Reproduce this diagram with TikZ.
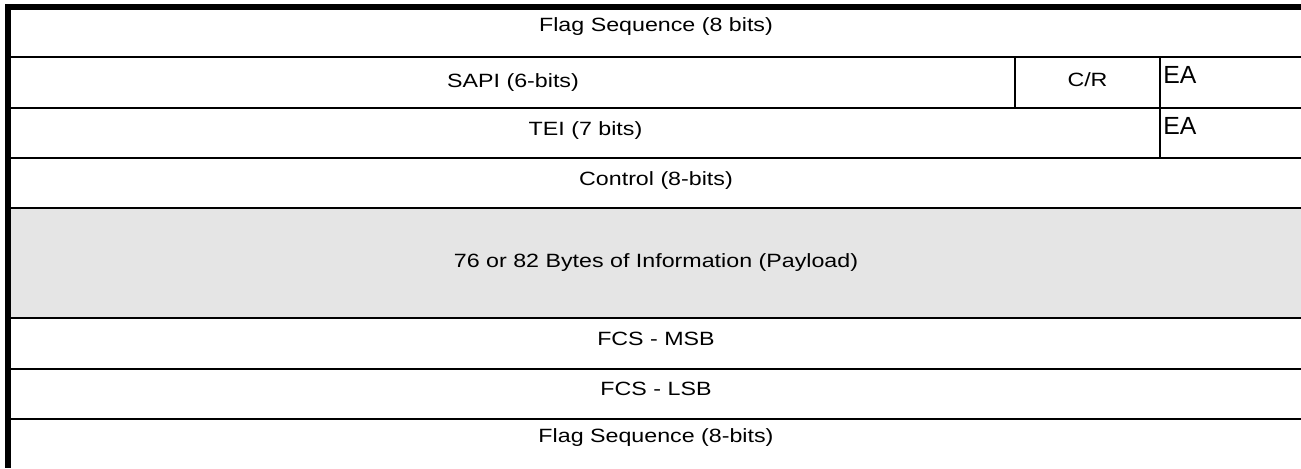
\documentclass[tikz,border=0pt]{standalone}
\usepackage{fontspec}
\setmainfont[FakeStretch=1.21]{Liberation Sans}
\newfontfamily\eafont{Liberation Sans}
\definecolor{payloadgray}{RGB}{229,229,229}

\begin{document}
\begin{tikzpicture}[
    x=0.5pt, y=-0.5pt,
    field/.style={font=\fontsize{9.6}{11}\selectfont, anchor=base, inner sep=0pt},
    ealabel/.style={font=\eafont\fontsize{12.4}{14}\selectfont, anchor=base west, inner sep=0pt},
    sep/.style={line width=1pt},
    frame/.style={line width=3pt},
]
\useasboundingbox (0,0) rectangle (1301,468);

% Payload background
\fill[payloadgray] (11,208) rectangle (1301,318);

% Row and column separators
\foreach \y in {57,108,158,208,318,369,419}
  \draw[sep] (11,\y) -- (1301,\y);
\draw[sep] (1015,57) -- (1015,108);
\draw[sep] (1160,57) -- (1160,158);

% Thick frame, top and left
\draw[frame] (5,7) -- (1301,7);
\draw[frame] (8,4) -- (8,468);

% Frame fields
\node[field] (flagtop) at (656,31.7) {Flag Sequence (8 bits)};
\node[field] (sapi) at (513,87.2) {SAPI (6-bits)};
\node[field] (cr) at (1087.5,86.9) {C/R};
\node[ealabel] (eafirst) at (1163,83.3) {EA};
\node[field] (tei) at (585.5,135.3) {TEI (7 bits)};
\node[ealabel] (easecond) at (1163,134.3) {EA};
\node[field] (control) at (656,185) {Control (8-bits)};
\node[field] (payload) at (656,267) {76 or 82 Bytes of Information (Payload)};
\node[field] (fcsmsb) at (656,345.7) {FCS - MSB};
\node[field] (fcslsb) at (656,395.7) {FCS - LSB};
\node[field] (flagbottom) at (656,442.7) {Flag Sequence (8-bits)};

\end{tikzpicture}
\end{document}
